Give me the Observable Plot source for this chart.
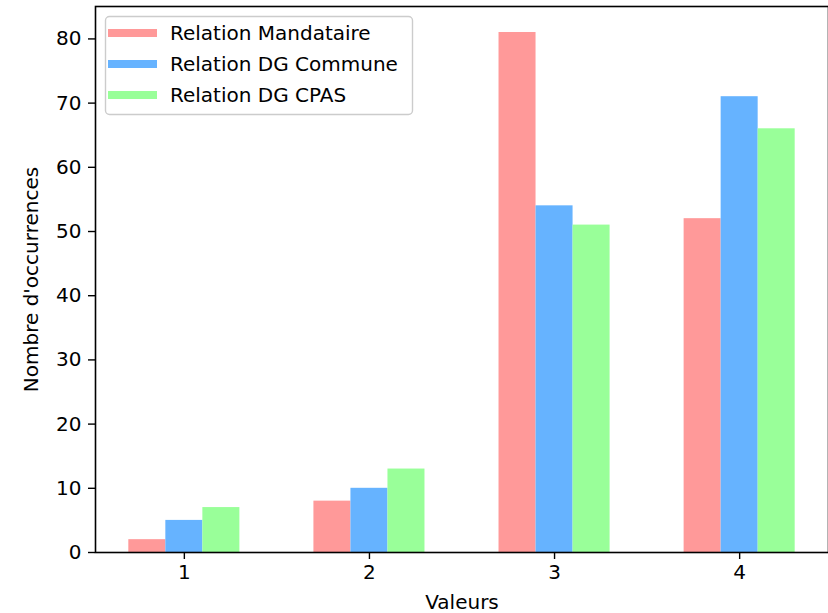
<!DOCTYPE html>
<html>
<head>
<meta charset="utf-8">
<script src="https://cdn.jsdelivr.net/npm/d3@7"></script>
<script src="https://cdn.jsdelivr.net/npm/@observablehq/plot@0.6"></script>
<style>
  html, body { margin: 0; padding: 0; background: #fff; }
  #chart { position: relative; width: 828px; height: 613px; }
</style>
</head>
<body>
<div id="chart"></div>
<script>
const categories = [1, 2, 3, 4];
const seriesNames = ["Relation Mandataire", "Relation DG Commune", "Relation DG CPAS"];
const seriesColors = ["#ff9999", "#66b3ff", "#99ff99"];
const mandataire = [2, 8, 81, 52];
const dgCommune = [5, 10, 54, 71];
const dgCpas = [7, 13, 51, 66];
const yTicks = [0, 10, 20, 30, 40, 50, 60, 70, 80];

const seriesValues = [mandataire, dgCommune, dgCpas];
const barWidth = 0.2;
const rows = [];
categories.forEach((c, i) => {
  seriesValues.forEach((vals, j) => {
    rows.push({cat: c, series: seriesNames[j], j, value: vals[i]});
  });
});

const font = "DejaVu Sans, sans-serif";
const plot = Plot.plot({
  width: 828,
  height: 613,
  marginLeft: 95,
  marginRight: 0,
  marginTop: 6,
  marginBottom: 61,
  style: {fontFamily: font, fontSize: "20px", color: "#000", background: "#fff"},
  x: {domain: [0.52, 4.48]},
  y: {domain: [0, 85.05]},
  color: {domain: seriesNames, range: seriesColors},
  marks: [
    Plot.rectY(rows, {
      x1: d => d.cat + (d.j - 1) * barWidth - barWidth / 2,
      x2: d => d.cat + (d.j - 1) * barWidth + barWidth / 2,
      y1: 0,
      y2: "value",
      fill: "series",
      inset: 0
    }),
    Plot.axisX({ticks: categories, tickFormat: d => String(d), tickSize: 7, tickPadding: 5,
      label: "Valeurs", labelAnchor: "center", labelArrow: "none", labelOffset: 56, strokeWidth: 1.4}),
    Plot.axisY({ticks: yTicks, tickSize: 7, tickPadding: 7,
      label: "Nombre d'occurrences", labelAnchor: "center", labelArrow: "none", labelOffset: 72, strokeWidth: 1.4}),
    Plot.frame({stroke: "#000", strokeWidth: 1.6})
  ]
});
document.getElementById("chart").appendChild(plot);

// Legend (matplotlib style, upper left inside axes)
const svg = d3.select(plot);
const lg = svg.append("g").attr("class", "legend").attr("text-anchor", "start");
lg.append("rect")
  .attr("x", 105.5).attr("y", 16.5).attr("width", 307).attr("height", 98)
  .attr("rx", 4).attr("ry", 4)
  .attr("fill", "#fff").attr("fill-opacity", 0.8)
  .attr("stroke", "#cccccc").attr("stroke-width", 1.4);
seriesNames.forEach((name, i) => {
  const cy = 33 + i * 31;
  lg.append("line")
    .attr("x1", 108).attr("x2", 157).attr("y1", cy).attr("y2", cy)
    .attr("stroke", seriesColors[i]).attr("stroke-width", 8);
  lg.append("text")
    .attr("x", 170).attr("y", cy).attr("dy", "0.36em")
    .attr("text-anchor", "start")
    .attr("font-family", font).attr("font-size", 20).attr("fill", "#000")
    .text(name);
});
</script>
</body>
</html>
